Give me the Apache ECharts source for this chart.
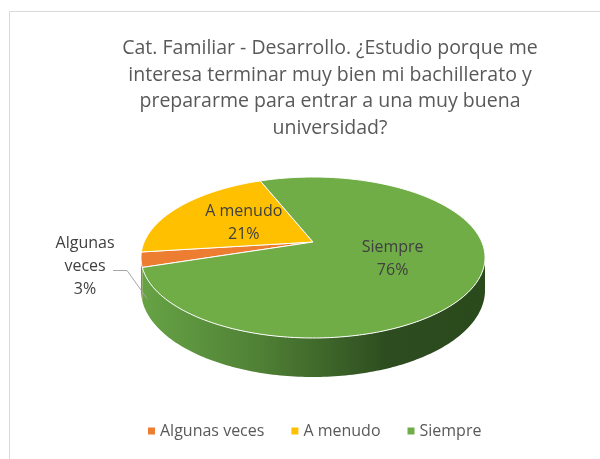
<!DOCTYPE html>
<html><head><meta charset="utf-8">
<script src="https://cdn.jsdelivr.net/npm/echarts@6/dist/echarts.min.js"></script>
<style>html,body{margin:0;padding:0;background:#fff}#c{width:600px;height:459px}</style>
</head><body><div id="c"></div>
<script>
// ---- data ----
const categories = ['Algunas veces', 'A menudo', 'Siempre'];
const values = [3, 21, 76];
const colors = ['#ED7D31', '#FFC000', '#70AD47'];
const titleLines = [
  'Cat. Familiar - Desarrollo. ¿Estudio porque me',
  'interesa terminar muy bien mi bachillerato y',
  'prepararme para entrar a una muy buena',
  'universidad?'
];
const firstSliceAngle = 252; // degrees, clockwise from 12 o'clock

// ---- layout (3D pie projection) ----
const FONT = '"Open Sans", "Noto Sans", sans-serif';
const CX = 313, CY = 242, RX = 168.8, RY = 77.5, K = 0.1926, DEPTH = 31.5;
const total = values.reduce((a, b) => a + b, 0);
const starts = [];
let acc = firstSliceAngle;
values.forEach(v => { starts.push(acc); acc += v / total * 360; });

function proj(deg, f, down) {
  const t = deg * Math.PI / 180;
  const u = Math.sin(t) * f, w = -Math.cos(t) * f;
  const s = 1 / (1 - K * w);
  return [CX + RX * u * s, CY + RY * w * s + (down ? DEPTH * s : 0)];
}
function arc(a1, a2, f, down) {
  const pts = [];
  const n = Math.max(2, Math.ceil(Math.abs(a2 - a1)));
  for (let i = 0; i <= n; i++) pts.push(proj(a1 + (a2 - a1) * i / n, f, down));
  return pts;
}
const visA = Math.acos(-K) * 180 / Math.PI, visB = 360 - visA;

function grad(stops) {
  return { type: 'linear', x: CX - 172, y: 0, x2: CX + 172, y2: 0, global: true,
    colorStops: stops.map(s => ({ offset: s[0], color: s[1] })) };
}
const wallFill = [
  grad([[0, '#d06c27'], [1, '#8a4418']]),
  grad([[0, '#d9a300'], [1, '#8f6b00']]),
  grad([[0, '#67a345'], [0.35, '#4f8035'], [0.72, '#2d4c1f'], [1, '#2b4a1c']])
];

function makeRender(i) {
  return function (params, api) {
    const v = api.value(0);
    const a1 = starts[i], a2 = a1 + v / total * 360;
    const children = [];
    [[visA, visB], [visA + 360, visB + 360]].forEach(([v1, v2]) => {
      const s = Math.max(a1, v1), e = Math.min(a2, v2);
      if (e > s) {
        const top = arc(s, e, 1, false), bot = arc(e, s, 1, true);
        children.push({ type: 'polygon', z2: 1, shape: { points: top.concat(bot) },
          style: { fill: wallFill[i] } });
      }
    });
    children.push({ type: 'polygon', z2: 10,
      shape: { points: [proj(0, 0, false)].concat(arc(a1, a2, 1, false)) },
      style: { fill: colors[i], stroke: '#ffffff', lineWidth: 1 } });
    const mid = (a1 + a2) / 2;
    const pct = Math.round(v / total * 100) + '%';
    if (v / total >= 0.05) {
      const p = proj(mid, 0.5, false);
      children.push({ type: 'text', z2: 20, x: p[0], y: p[1],
        style: { text: categories[i] + '\n' + pct, fill: '#404040', font: '16px ' + FONT,
          align: 'center', verticalAlign: 'middle', lineHeight: 23 } });
    } else {
      const p = proj(mid, 1, true);
      const anchor = [p[0] + 6, p[1] + 6];
      const elbow = [anchor[0] - 20, anchor[1] - 28];
      const end = [anchor[0] - 34, anchor[1] - 28];
      children.push({ type: 'polyline', z2: 15, shape: { points: [anchor, elbow, end] },
        style: { stroke: '#a6a6a6', lineWidth: 1, fill: null } });
      const name = categories[i].split(' ').join('\n');
      children.push({ type: 'text', z2: 20, x: end[0] - 28, y: end[1] - 4,
        style: { text: name + '\n' + pct, fill: '#404040', font: '16px ' + FONT,
          align: 'center', verticalAlign: 'middle', lineHeight: 23 } });
    }
    return { type: 'group', children };
  };
}

const chart = echarts.init(document.getElementById('c'), null, { renderer: 'canvas' });
chart.setOption({
  animation: false,
  backgroundColor: '#ffffff',
  title: {
    text: titleLines.join('\n'),
    left: 330, top: 35, textAlign: 'center', padding: 0,
    textStyle: { fontFamily: FONT, fontSize: 19.5, fontWeight: 'normal', color: '#595959', lineHeight: 26.7 }
  },
  legend: {
    data: categories, left: 148, top: 423, icon: 'rect', itemWidth: 7, itemHeight: 7, itemGap: 27,
    padding: 0, selectedMode: false,
    textStyle: { fontFamily: FONT, fontSize: 16, color: '#595959' }
  },
  graphic: [{ type: 'rect', silent: true, shape: { x: 9.5, y: 11.5, width: 700, height: 600 },
    style: { fill: 'none', stroke: '#d9d9d9', lineWidth: 1 }, z: -1 }],
  series: categories.map((c, i) => ({
    type: 'custom', name: c, coordinateSystem: 'none', silent: true,
    itemStyle: { color: colors[i] },
    data: [[values[i]]],
    renderItem: makeRender(i)
  }))
});
</script></body></html>
